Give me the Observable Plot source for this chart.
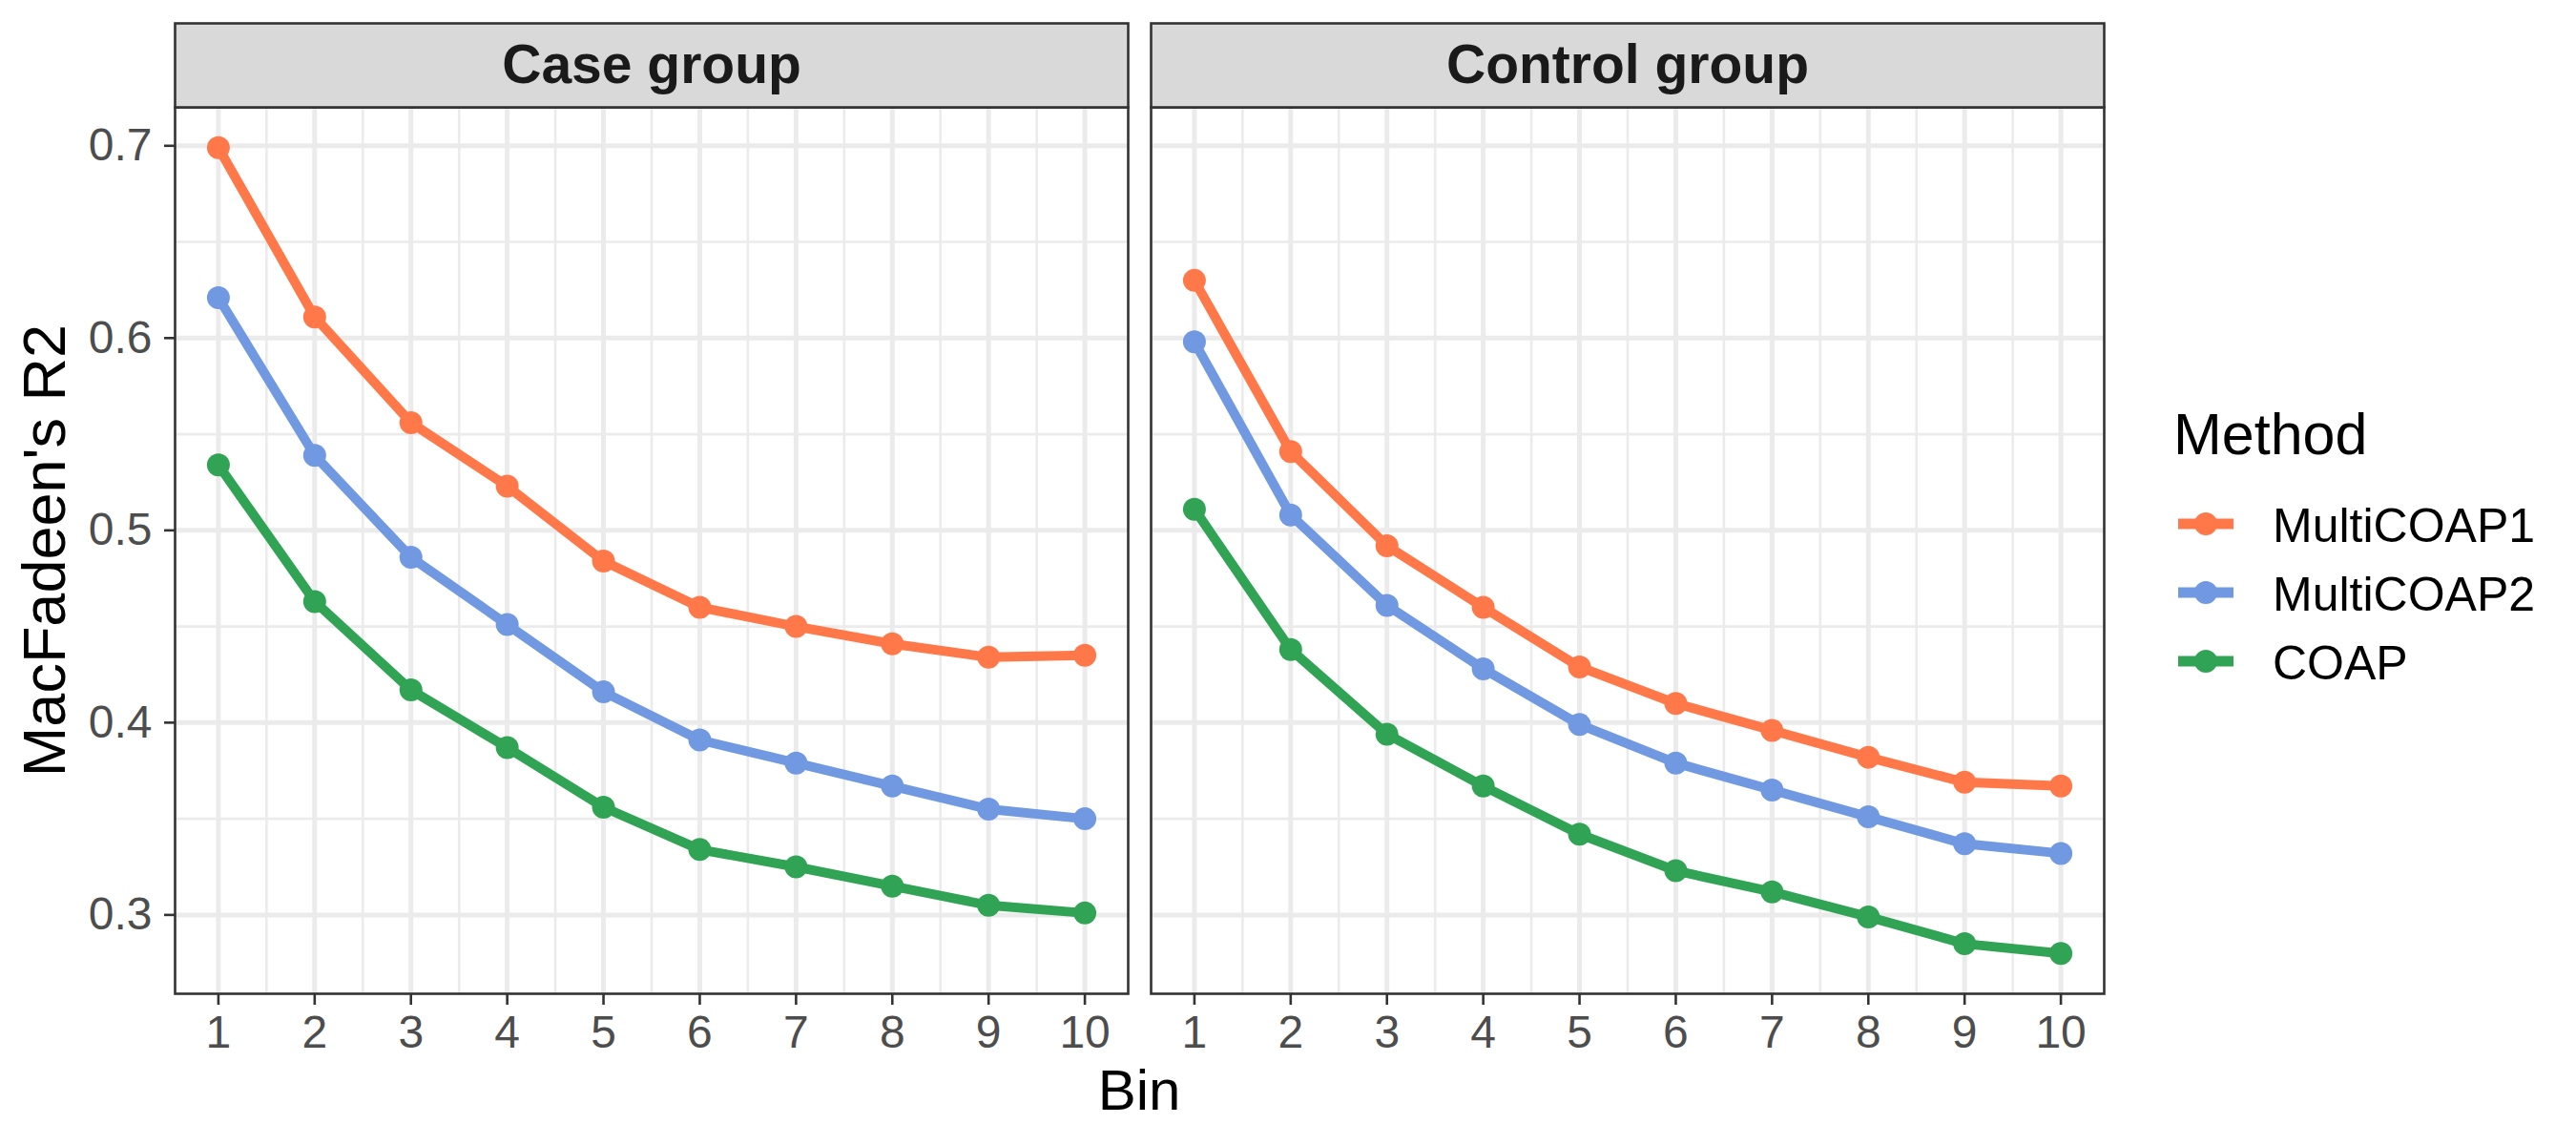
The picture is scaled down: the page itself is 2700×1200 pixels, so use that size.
<!DOCTYPE html>
<html>
<head>
<meta charset="utf-8">
<script src="https://cdn.jsdelivr.net/npm/d3@7"></script>
<script src="https://cdn.jsdelivr.net/npm/@observablehq/plot@0.6"></script>
<style>
  html, body { margin: 0; padding: 0; background: white; }
  #wrap { position: relative; width: 2700px; height: 1200px; font-family: "Liberation Sans", Arial, sans-serif; }
  #wrap svg { display: block; }
  .lg { position: absolute; white-space: nowrap; line-height: 1; color: black; }
</style>
</head>
<body>
<div id="wrap"></div>
<script>
// ---- data ----
const facets = ["Case group", "Control group"];
const methods = ["MultiCOAP1", "MultiCOAP2", "COAP"];
const colors = ["#FF7849", "#7099E1", "#31A354"];
const bins = [1, 2, 3, 4, 5, 6, 7, 8, 9, 10];

const caseMulti1 = [0.699, 0.611, 0.556, 0.523, 0.484, 0.460, 0.450, 0.441, 0.434, 0.435];
const caseMulti2 = [0.621, 0.539, 0.486, 0.451, 0.416, 0.391, 0.379, 0.367, 0.355, 0.350];
const caseCOAP   = [0.534, 0.463, 0.417, 0.387, 0.356, 0.334, 0.325, 0.315, 0.305, 0.301];

const ctrlMulti1 = [0.630, 0.541, 0.492, 0.460, 0.429, 0.410, 0.396, 0.382, 0.369, 0.367];
const ctrlMulti2 = [0.598, 0.508, 0.461, 0.428, 0.399, 0.379, 0.365, 0.351, 0.337, 0.332];
const ctrlCOAP   = [0.511, 0.438, 0.394, 0.367, 0.342, 0.323, 0.312, 0.299, 0.285, 0.280];

const xTicks = [1, 2, 3, 4, 5, 6, 7, 8, 9, 10];
const xMinor = [1.5, 2.5, 3.5, 4.5, 5.5, 6.5, 7.5, 8.5, 9.5];
const yTicks = [0.3, 0.4, 0.5, 0.6, 0.7];
const yMinor = [0.35, 0.45, 0.55, 0.65];

const xTitle = "Bin";
const yTitle = "MacFadeen's R2";
const legendTitle = "Method";

// ---- build table ----
const series = {
  "Case group": [caseMulti1, caseMulti2, caseCOAP],
  "Control group": [ctrlMulti1, ctrlMulti2, ctrlCOAP]
};
const rows = [];
for (const g of facets) {
  series[g].forEach((vals, mi) => {
    vals.forEach((v, i) => rows.push({group: g, method: methods[mi], bin: bins[i], value: v}));
  });
}

// ---- layout ----
const W = 2700, H = 1200;
const mL = 182, mR = 494, mT = 112, mB = 159;
const stripH = 88;
const plotH = H - mT - mB;
const axisCol = "#333333";
const textCol = "#4D4D4D";
const tickFont = 48;

const chart = Plot.plot({
  width: W,
  height: H,
  marginLeft: mL,
  marginRight: mR,
  marginTop: mT,
  marginBottom: mB,
  style: {fontFamily: "'Liberation Sans', Arial, sans-serif", fontSize: tickFont + "px", background: "white", color: "black"},
  fx: {domain: facets, paddingInner: 0.0234, paddingOuter: 0, axis: null, label: null},
  x: {domain: [0.55, 10.45], label: null},
  y: {domain: [0.259, 0.72], label: null},
  color: {domain: methods, range: colors},
  marks: [
    Plot.gridX(xMinor, {stroke: "#EBEBEB", strokeOpacity: 1, strokeWidth: 2.6}),
    Plot.gridY(yMinor, {stroke: "#EBEBEB", strokeOpacity: 1, strokeWidth: 2.6}),
    Plot.gridX(xTicks, {stroke: "#EBEBEB", strokeOpacity: 1, strokeWidth: 5}),
    Plot.gridY(yTicks, {stroke: "#EBEBEB", strokeOpacity: 1, strokeWidth: 5}),
    Plot.line(rows, {fx: "group", x: "bin", y: "value", stroke: "method", strokeWidth: 10, strokeLinejoin: "round"}),
    Plot.dot(rows, {fx: "group", x: "bin", y: "value", fill: "method", r: 12, stroke: null}),
    Plot.frame({stroke: axisCol, strokeWidth: 2.6, fill: "none"}),
    // strip background
    Plot.frame({fill: "#D9D9D9", stroke: axisCol, strokeWidth: 2.6, insetTop: -stripH, insetBottom: plotH}),
    Plot.text(facets, {fx: d => d, text: d => d, frameAnchor: "top", dy: -stripH / 2, lineAnchor: "middle",
      fontSize: 57, fontWeight: "bold", fill: "#1A1A1A"}),
    Plot.axisX(xTicks, {tickSize: 12, tickPadding: 10, strokeWidth: 2.6, stroke: axisCol, fill: textCol,
      fontSize: tickFont, label: null, tickFormat: d3.format("d")}),
    Plot.axisY(yTicks, {tickSize: 11, tickPadding: 13, strokeWidth: 2.6, stroke: axisCol, fill: textCol,
      fontSize: tickFont, label: null, tickFormat: d3.format(".1f")}),
    Plot.text([yTitle], {fx: () => facets[0], text: d => d, frameAnchor: "left", dx: -136, rotate: -90,
      textAnchor: "middle", lineAnchor: "middle", fontSize: 63, fill: "black"}),
    Plot.text([xTitle], {fx: () => facets[1], text: d => d, frameAnchor: "bottom-left", dx: -12.5, dy: 102,
      textAnchor: "middle", lineAnchor: "middle", fontSize: 60, fill: "black"})
  ]
});

const wrap = document.getElementById("wrap");
wrap.appendChild(chart);

// ---- legend ----
function addDiv(text, left, baseline, fs) {
  const d = document.createElement("div");
  d.className = "lg";
  d.textContent = text;
  d.style.left = left + "px";
  d.style.top = (baseline - 0.8465 * fs) + "px";
  d.style.fontSize = fs + "px";
  wrap.appendChild(d);
}
addDiv(legendTitle, 2278, 477, 61);
const keyCenters = [549, 621, 693];
const labelBaselines = [568, 640, 712];
methods.forEach((m, i) => {
  const ns = "http://www.w3.org/2000/svg";
  const s = document.createElementNS(ns, "svg");
  s.setAttribute("width", 60);
  s.setAttribute("height", 30);
  s.style.position = "absolute";
  s.style.left = "2282px";
  s.style.top = (keyCenters[i] - 15) + "px";
  const ln = document.createElementNS(ns, "line");
  ln.setAttribute("x1", 1); ln.setAttribute("x2", 59);
  ln.setAttribute("y1", 15); ln.setAttribute("y2", 15);
  ln.setAttribute("stroke", colors[i]); ln.setAttribute("stroke-width", 11);
  const c = document.createElementNS(ns, "circle");
  c.setAttribute("cx", 30); c.setAttribute("cy", 15); c.setAttribute("r", 12);
  c.setAttribute("fill", colors[i]);
  s.appendChild(ln); s.appendChild(c);
  wrap.appendChild(s);
  addDiv(m, 2382, labelBaselines[i], 50);
});
</script>
</body>
</html>
